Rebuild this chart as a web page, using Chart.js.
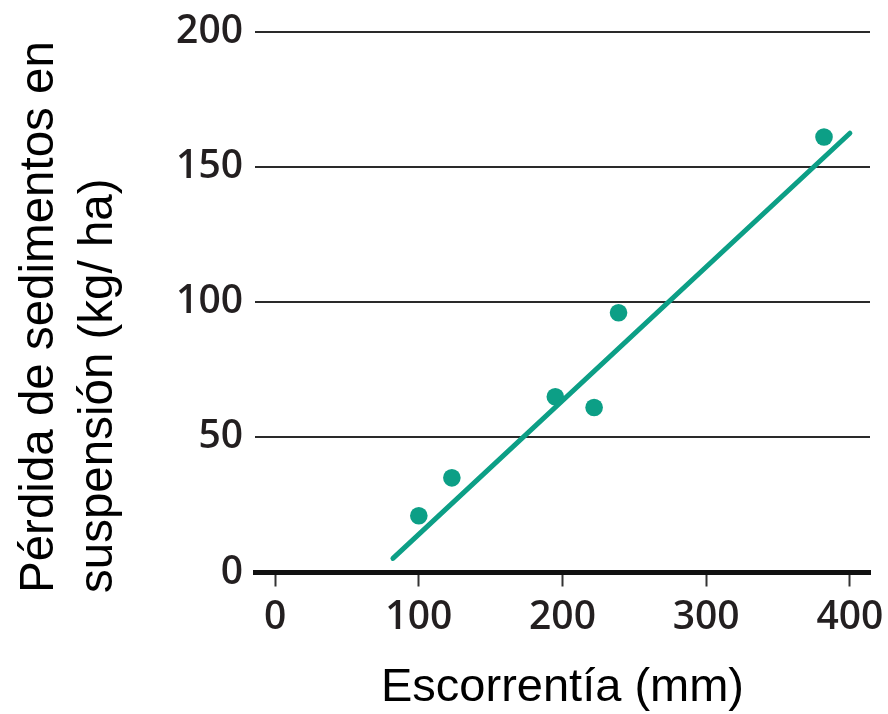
<!DOCTYPE html>
<html>
<head>
<meta charset="utf-8">
<script src="https://cdn.jsdelivr.net/npm/chart.js@4/dist/chart.umd.min.js"></script>
<style>
  html, body { margin: 0; padding: 0; background: #fff; }
  #wrap { width: 888px; height: 714px; }
</style>
</head>
<body>
<div id="wrap"><canvas id="chart"></canvas></div>
<script>
// Escorrentía (mm) vs pérdida de sedimentos
const runoff = [100, 123, 195, 222, 239, 382];
const sediment = [21, 35, 65, 61, 96, 161];
const fitX = [82, 400];
const fitY = [5.2, 162.4];
const xTicks = [0, 100, 200, 300, 400];
const yTicks = [0, 50, 100, 150, 200];
const yTitleLines = ['Pérdida de sedimentos en', 'suspensión (kg/ ha)'];

const teal = '#0c9f86';
const ink = '#231f20';

const points = runoff.map((x, i) => ({ x: x, y: sediment[i] }));
const fitLine = fitX.map((x, i) => ({ x: x, y: fitY[i] }));

// y title: two lines, start-aligned at the bottom, drawn rotated
const yTitlePlugin = {
  id: 'yTitle',
  afterDraw(chart) {
    const ctx = chart.ctx;
    ctx.save();
    ctx.translate(0, 593);
    ctx.rotate(-Math.PI / 2);
    ctx.fillStyle = '#000';
    ctx.font = '47.5px "Liberation Sans", Arial, sans-serif';
    ctx.textAlign = 'left';
    ctx.textBaseline = 'alphabetic';
    ctx.fillText(yTitleLines[0], 0, 53);
    ctx.fillText(yTitleLines[1], 0, 112);
    ctx.restore();
  }
};

new Chart(document.getElementById('chart'), {
  type: 'scatter',
  data: {
    datasets: [
      {
        type: 'line',
        data: fitLine,
        borderColor: teal,
        borderWidth: 5,
        borderCapStyle: 'round',
        pointRadius: 0,
        fill: false
      },
      {
        data: points,
        backgroundColor: teal,
        borderWidth: 0,
        pointRadius: 8.8
      }
    ]
  },
  plugins: [yTitlePlugin],
  options: {
    responsive: true,
    maintainAspectRatio: false,
    animation: false,
    layout: {
      padding: { left: 0, right: 18, top: 31.5, bottom: 0 }
    },
    plugins: {
      legend: { display: false },
      tooltip: { enabled: false }
    },
    scales: {
      x: {
        type: 'linear',
        min: -14,
        max: 414,
        afterBuildTicks: (s) => { s.ticks = xTicks.map(v => ({ value: v })); },
        afterFit: (s) => { s.height = 141.5; },
        border: { display: true, color: '#111', width: 5 },
        grid: {
          drawOnChartArea: false,
          drawTicks: true,
          tickLength: 14,
          tickWidth: 2,
          tickColor: '#333'
        },
        ticks: {
          color: ink,
          padding: 0,
          font: { family: 'Open Sans', size: 39, weight: 600, lineHeight: 1.62 }
        },
        title: {
          display: true,
          text: 'Escorrentía (mm)',
          color: '#000',
          padding: { top: 4, bottom: 0 },
          font: { family: 'Liberation Sans', size: 47, lineHeight: 1.1 }
        }
      },
      y: {
        type: 'linear',
        min: 0,
        max: 200,
        afterBuildTicks: (s) => { s.ticks = yTicks.map(v => ({ value: v })); },
        afterFit: (s) => { s.width = 255; },
        border: { display: false },
        grid: {
          drawTicks: false,
          lineWidth: 2,
          color: (ctx) => ctx.tick && ctx.tick.value === 0 ? 'rgba(0,0,0,0)' : '#2a2a2a'
        },
        ticks: {
          color: ink,
          padding: 12,
          font: { family: 'Open Sans', size: 39, weight: 600, lineHeight: 1.0 }
        },
        title: { display: false }
      }
    }
  }
});
</script>
</body>
</html>
